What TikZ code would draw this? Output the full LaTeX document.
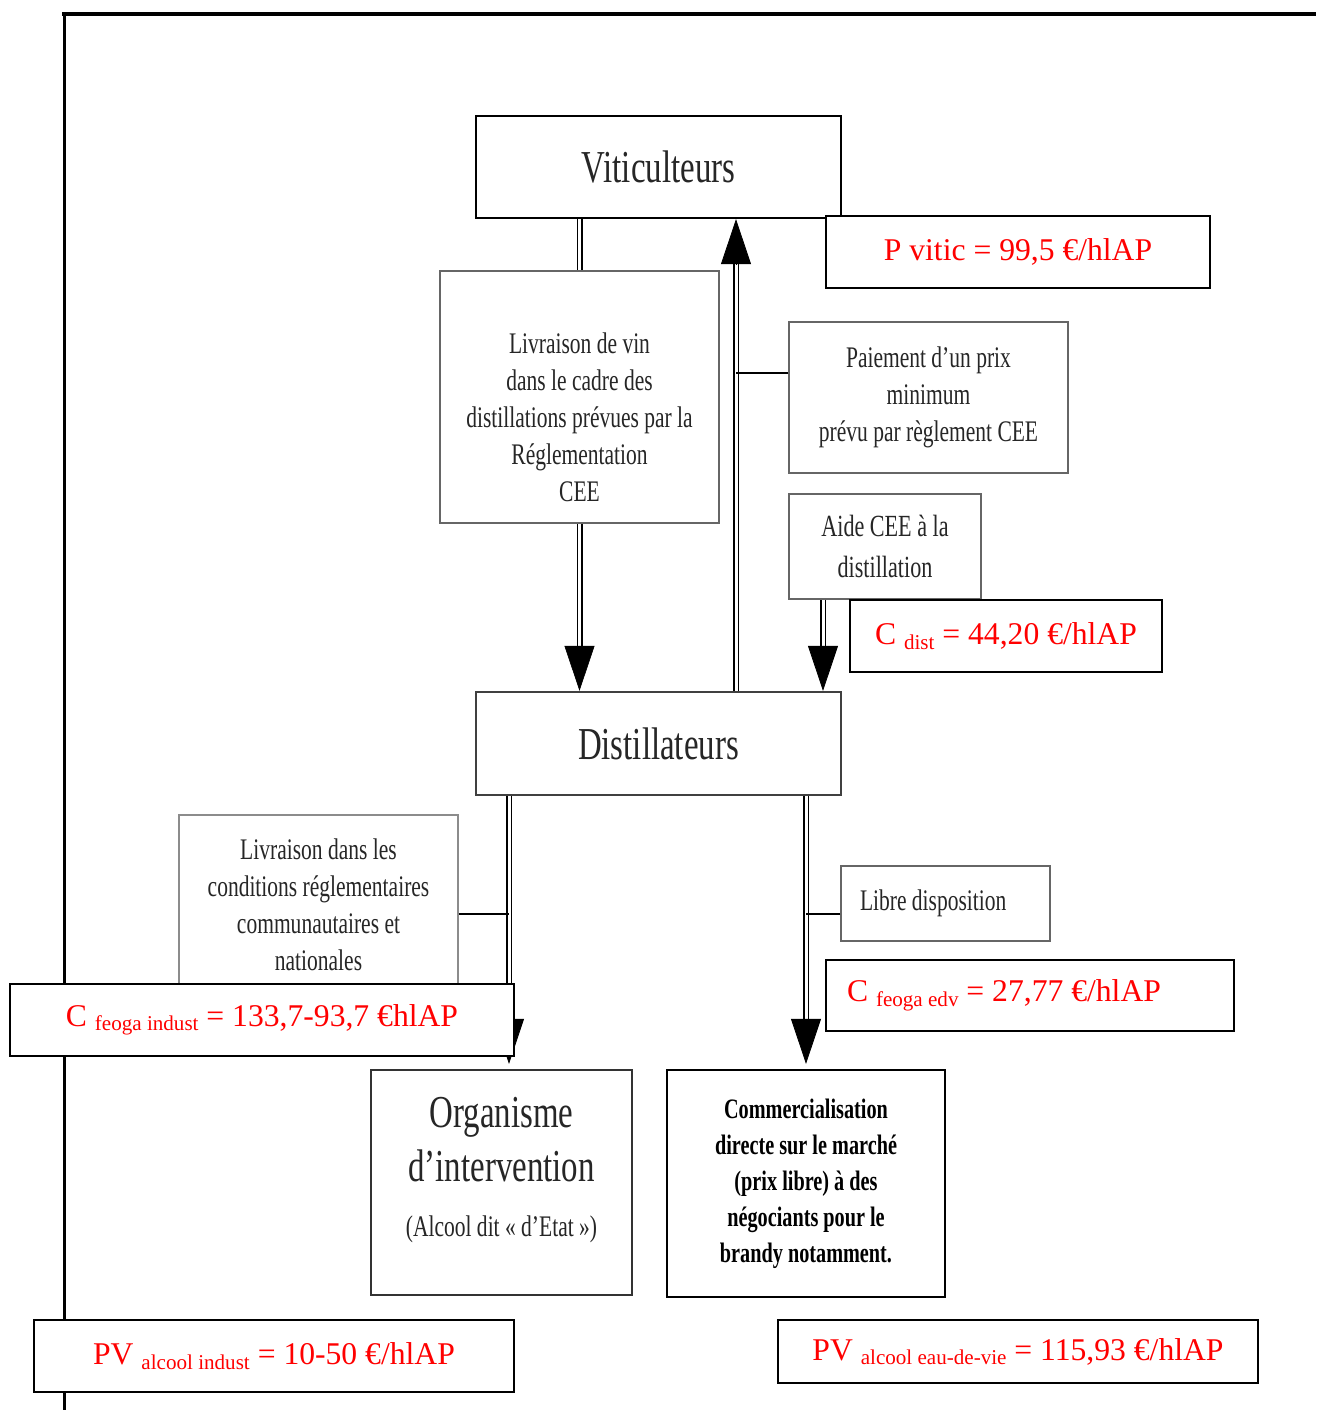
\documentclass[tikz,border=0pt]{standalone}
\usepackage{fontspec}
\setmainfont{Liberation Serif}
\newfontfamily\narrowfont[FakeStretch=0.72]{Liberation Serif}
\usetikzlibrary{arrows.meta,calc}
\newcommand{\lo}[1]{{\fontsize{12}{12}\selectfont\raisebox{-0.9mm}{#1}}}

\begin{document}
\begin{tikzpicture}[x=0.2mm, y=-0.2mm,
	txt/.style={align=center, text=black!85, font=\narrowfont\fontsize{17}{21}\selectfont},
	box/.style={txt, draw=black!60, line width=0.3mm, fill=white, inner sep=0pt},
	bigbox/.style={box, draw=black, line width=0.45mm, font=\narrowfont\fontsize{26}{28}\selectfont},
	valbox/.style={draw=black, line width=0.4mm, fill=white, inner sep=0pt, text=red, font=\fontsize{18}{20}\selectfont},
	dbl/.style={double, double distance=0.6mm, line width=0.3mm},
	tip/.style={-{Triangle[width=6mm,length=9mm]}}]
	\useasboundingbox (0,0) rectangle (1316,1410);
	% frame
	\draw[line width=0.8mm] (62,14) -- (1316,14);
	\draw[line width=0.6mm] (64,14) -- (64,1410);
	% boxes
	\node[bigbox, minimum width=73mm, minimum height=20.4mm] (vit) at (658.5,167) {Viticulteurs};
	\node[box, minimum width=55.8mm, minimum height=50.4mm] (livvin) at (579.5,397) {};
	\node[txt] (livvintxt) at (579.5,417) {Livraison de vin\\dans le cadre des\\distillations prévues par la\\Réglementation\\CEE};
	\node[box, minimum width=55.8mm, minimum height=30.2mm] (paie) at (928.5,397.5) {Paiement d’un prix\\minimum\\prévu par règlement CEE};
	\node[box, minimum width=38.4mm, minimum height=21mm, font=\narrowfont\fontsize{17.5}{23}\selectfont] (aide) at (885,546.5) {Aide CEE à la\\distillation};
	\node[bigbox, draw=black!75, minimum width=73mm, minimum height=20.6mm] (dist) at (658.5,743.5) {Distillateurs};
	\node[box, draw=black!45, minimum width=55.8mm, minimum height=36mm] (livcond) at (318.5,905) {Livraison dans les\\conditions réglementaires\\communautaires et\\nationales};
	\node[box, align=flush left, inner xsep=3.8mm, text width=34.2mm, minimum height=15mm] (libre) at (945.5,903.5) {Libre disposition};
	\node[box, draw=black!80, line width=0.45mm, minimum width=52.2mm, minimum height=45mm, font=\narrowfont\fontsize{26}{31}\selectfont] (organ) at (501.5,1182.5) {};
	\node[txt, font=\narrowfont\fontsize{26}{31}\selectfont] (organtxt) at (501.5,1170) {Organisme\\d’intervention\\{\fontsize{17}{20}\selectfont (Alcool dit « d’Etat »)}};
	\node[box, draw=black, line width=0.45mm, text=black, minimum width=55.6mm, minimum height=45.4mm, font=\narrowfont\bfseries\fontsize{16}{20.5}\selectfont] (comm) at (806,1183.5) {Commercialisation\\directe sur le marché\\(prix libre) à des\\négociants pour le\\brandy notamment.};
	% flows
	\draw[dbl] (vit.south -| livvin.north) -- (livvin.north);
	\draw[dbl] (livvin.south) -- ($(dist.north -| livvin.south)+(0,-40)$);
	\draw[tip] ($(dist.north -| livvin.south)+(0,-45)$) -- (dist.north -| livvin.south);
	\coordinate (upbot) at ($(dist.north)+(77.5,0)$);
	\coordinate (uptop) at (vit.south -| upbot);
	\draw[dbl] (upbot) -- ($(uptop)+(0,40)$);
	\draw[tip] ($(uptop)+(0,45)$) -- (uptop);
	\coordinate (paiein) at ($(paie.west)+(0,-24.5)$);
	\draw[line width=0.3mm] (paiein) -- (paiein -| upbot);
	\coordinate (aidebot) at ($(aide.south)+(-62,0)$);
	\draw[dbl] (aidebot) -- ($(dist.north -| aidebot)+(0,-40)$);
	\draw[tip] ($(dist.north -| aidebot)+(0,-45)$) -- (dist.north -| aidebot);
	\coordinate (dl) at ($(dist.south)+(-149.5,0)$);
	\draw[dbl] (dl) -- ($(organ.north -| dl)+(0,-45)$);
	\draw[tip] ($(organ.north -| dl)+(0,-50)$) -- ($(organ.north -| dl)+(0,-5)$);
	\draw[dbl] (comm.north |- dist.south) -- ($(comm.north)+(0,-45)$);
	\draw[tip] ($(comm.north)+(0,-50)$) -- ($(comm.north)+(0,-5)$);
	\coordinate (lc) at ($(livcond.east)+(0,9)$);
	\draw[line width=0.3mm] (lc) -- (lc -| dl);
	\coordinate (lb) at ($(libre.west)+(0,10.5)$);
	\draw[line width=0.3mm] (lb) -- (lb -| comm.north);
	% values
	\node[valbox, minimum width=76.8mm, minimum height=14.4mm] (pvitic) at (1018,252) {P vitic = 99,5 €/hlAP};
	\node[valbox, minimum width=62.4mm, minimum height=14.4mm] (cdist) at (1006,636) {C \lo{dist} = 44,20 €/hlAP};
	\node[valbox, minimum width=100.8mm, minimum height=14.4mm] (cindust) at (262,1020) {C \lo{feoga indust} = 133,7-93,7 €hlAP};
	\node[valbox, align=flush left, inner xsep=4.2mm, text width=73.2mm, minimum height=14.2mm] (cedv) at (1030,995.5) {C \lo{feoga edv} = 27,77 €/hlAP};
	\node[valbox, minimum width=96mm, minimum height=14.4mm] (pvind) at (274,1356) {PV \lo{alcool indust} = 10-50 €/hlAP};
	\node[valbox, minimum width=96mm, minimum height=12.6mm] (pvedv) at (1018,1351.5) {PV \lo{alcool eau-de-vie} = 115,93 €/hlAP};
\end{tikzpicture}
\end{document}
